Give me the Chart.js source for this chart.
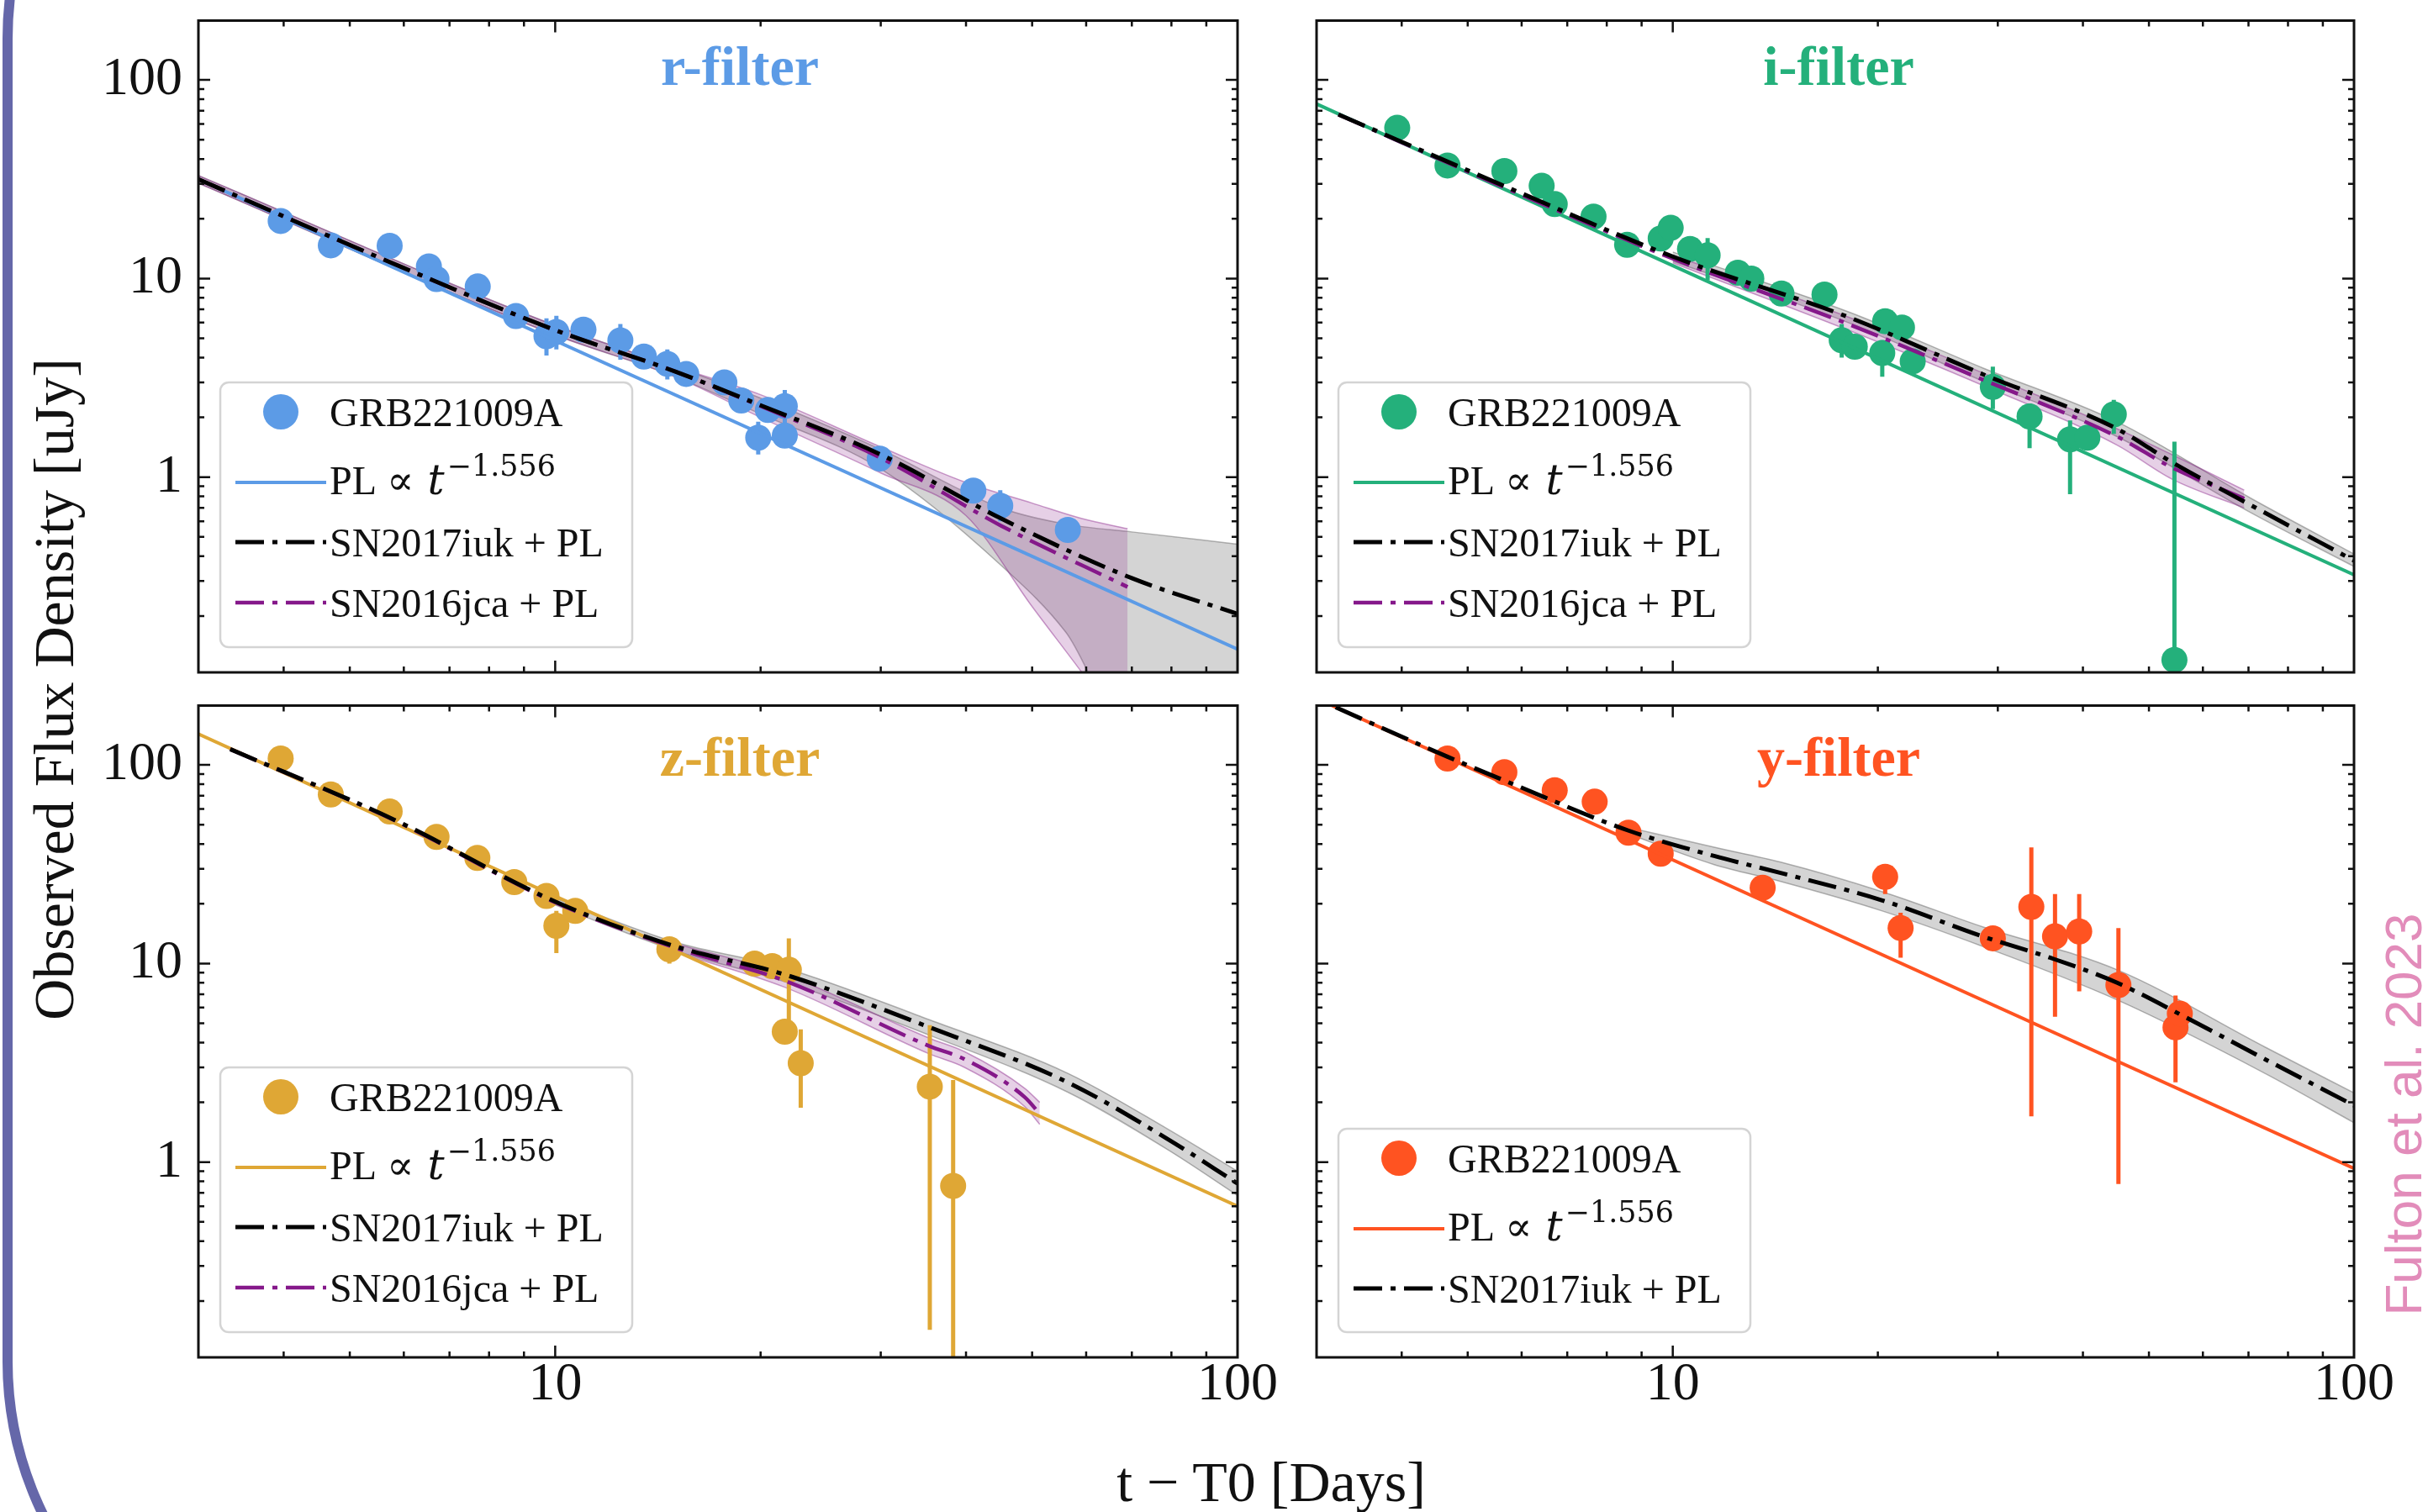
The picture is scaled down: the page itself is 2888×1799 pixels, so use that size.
<!DOCTYPE html>
<html>
<head>
<meta charset="utf-8">
<script src="https://cdn.jsdelivr.net/npm/chart.js@4.4.1/dist/chart.umd.min.js"></script>
<style>
  html, body { margin: 0; padding: 0; background: #fff; overflow: hidden; }
  #page { position: relative; width: 2888px; height: 1799px; overflow: hidden; background: #fff; }
  #page canvas { position: absolute; }
  .frame { position: absolute; left: 3px; top: -374px; width: 4000px; height: 2414px;
           border: 12px solid #6567a9; border-radius: 420px; box-sizing: border-box; }
  .lab { position: absolute; font-family: "Liberation Serif", "Times New Roman", serif;
         color: #111; white-space: nowrap; transform: translate(-50%, -50%); }
</style>
</head>
<body>
<div id="page">
  <div class="frame"></div>
  <div class="lab" style="left:64px; top:820px; font-size:68px; transform: translate(-50%,-50%) rotate(-90deg);">Observed Flux Density [uJy]</div>
  <div class="lab" style="left:1512px; top:1763px; font-size:68px;">t − T0 [Days]</div>
  <div class="lab" style="left:2858px; top:1326px; font-size:62px; font-family:'Liberation Sans',Arial,sans-serif; color:#e28cba; transform: translate(-50%,-50%) rotate(-90deg);">Fulton et al. 2023</div>
</div>
<script>
// ---- axis ticks ----
const xTickLabels = [10, 100];
const yTickLabels = [1, 10, 100];

// ---- r-filter ----
const rT    = [3.96, 4.69, 5.72, 6.53, 6.70, 7.70, 8.76, 9.71, 10.04, 11.0, 12.46, 13.49, 14.6, 15.56, 17.7, 18.74, 20.5, 21.7, 19.84, 21.7, 29.9, 41.0, 44.9, 56.4];
const rFlux = [19.5, 14.7, 14.6, 11.5, 9.95, 9.12, 6.48, 5.13, 5.38, 5.53, 4.88, 4.05, 3.72, 3.31, 3.0, 2.43, 2.18, 2.28, 1.58, 1.62, 1.24, 0.856, 0.718, 0.542];
const rLo   = [null, null, null, null, null, null, null, 4.1, 4.4, null, 3.9, null, 3.1, null, null, null, null, 1.85, 1.3, null, null, null, 0.6, null];
const rHi   = [null, null, null, null, null, null, null, 6.3, 6.5, null, 5.9, null, 4.4, null, null, null, null, 2.75, 1.9, null, null, null, 0.86, null];
const rPLT = [3, 100], rPLF = [31.6, 0.136];
const rIukT = [3, 6, 10, 15, 20, 30, 45, 70, 100];
const rIukF = [31.6, 11.3, 5.5, 3.4, 2.3, 1.3, 0.62, 0.31, 0.205];
const rIukBandT = [3, 10, 15, 20, 30, 45, 56, 70, 100];
const rIukUp    = [33, 5.8, 3.6, 2.5, 1.38, 0.7, 0.58, 0.53, 0.46];
const rIukLow   = [30.2, 5.2, 3.2, 2.08, 1.1, 0.36, 0.166, 0.05, 0.05];
const rJcaT = [3, 6, 10, 15, 20, 30, 45, 69];
const rJcaF = [31.6, 11.3, 5.5, 3.4, 2.28, 1.25, 0.57, 0.28];
const rJcaBandT = [3, 10, 15, 20, 30, 40, 50, 59, 69];
const rJcaUp    = [33, 5.8, 3.6, 2.6, 1.42, 0.94, 0.74, 0.62, 0.55];
const rJcaLow   = [30.2, 5.2, 3.2, 2.0, 1.05, 0.64, 0.223, 0.105, 0.05];

// ---- i-filter ----
const iT    = [3.94, 4.67, 5.66, 6.42, 6.71, 7.65, 8.57, 9.6, 9.93, 10.6, 11.25, 12.46, 13.04, 14.44, 16.7, 17.7, 18.5, 20.5, 21.7, 20.3, 22.5, 29.5, 33.4, 38.3, 40.6, 44.4, 54.5];
const iFlux = [57.4, 37.1, 34.8, 29.3, 23.7, 20.5, 14.8, 15.9, 18.0, 14.1, 13.1, 10.7, 10.0, 8.4, 8.3, 4.89, 4.54, 6.1, 5.67, 4.22, 3.83, 2.85, 2.02, 1.55, 1.58, 2.07, 0.12];
const iLo   = [null, null, null, null, null, null, null, null, null, null, 9.8, null, null, null, null, 4.0, null, null, null, 3.2, null, 2.2, 1.4, 0.82, null, 1.65, 0.05];
const iHi   = [null, null, null, null, null, null, null, null, null, null, 16.0, null, null, null, null, 5.9, null, null, null, 4.9, null, 3.6, 2.35, 1.93, null, 2.45, 1.51];
const iPLT = [3, 100], iPLF = [75.7, 0.322];
const iIukT = [3.23, 5.83, 10, 18.1, 28.5, 44.9, 53.8, 70.7, 100];
const iIukF = [67, 28, 12.9, 6.4, 3.3, 1.75, 1.2, 0.72, 0.38];
const iIukBandT = [10, 18.1, 28.5, 44.9, 70.7, 100];
const iIukUp    = [13.6, 6.8, 3.55, 1.9, 0.78, 0.41];
const iIukLow   = [12.2, 6.0, 3.05, 1.6, 0.66, 0.355];
const iJcaT = [3.23, 5.83, 10, 18.1, 28.5, 44.9, 54, 69];
const iJcaF = [67, 27.5, 12.6, 5.9, 3.1, 1.6, 1.12, 0.78];
const iJcaBandT = [10, 18.1, 28.5, 44.9, 54, 69];
const iJcaUp    = [13.1, 6.4, 3.35, 1.75, 1.3, 0.86];
const iJcaLow   = [12.0, 5.5, 2.9, 1.45, 0.98, 0.7];

// ---- z-filter ----
const zT    = [3.96, 4.69, 5.72, 6.70, 7.69, 8.71, 9.71, 10.04, 10.7, 14.7, 19.6, 20.8, 22.0, 21.7, 22.9, 35.4, 38.3];
const zFlux = [107.7, 71, 58.3, 43.4, 34, 25.7, 21.9, 15.5, 18.4, 11.8, 10.0, 9.7, 9.3, 4.54, 3.15, 2.40, 0.759];
const zLo   = [null, null, null, null, null, null, null, 11.3, null, 10.0, null, null, 4.5, null, 1.88, 0.143, 0.05];
const zHi   = [null, null, null, null, null, null, null, 18.4, null, 13.3, null, null, 13.4, null, 4.66, 4.89, 2.59];
const zPLT = [3, 100], zPLF = [143, 0.6];
const zIukT = [3.34, 5.82, 10, 15, 21.7, 35.4, 56.4, 79.2, 100];
const zIukF = [120, 52.8, 20.5, 12.2, 8.8, 4.77, 2.52, 1.3, 0.78];
const zIukBandT = [10, 15, 21.7, 35.4, 56.4, 79.2, 100];
const zIukUp    = [21.3, 12.8, 9.5, 5.2, 2.8, 1.46, 0.9];
const zIukLow   = [19.7, 11.6, 8.1, 4.35, 2.25, 1.15, 0.68];
const zJcaT = [3.34, 5.82, 10, 15, 21.7, 35.4, 39.8, 48.8, 51.3];
const zJcaF = [120, 52.5, 20.3, 12.0, 8.2, 3.83, 3.3, 2.12, 1.75];
const zJcaBandT = [15, 21.7, 35.4, 39.8, 48.8, 51.3];
const zJcaUp    = [12.6, 8.8, 4.2, 3.6, 2.35, 2.0];
const zJcaLow   = [11.4, 7.6, 3.5, 3.0, 1.9, 1.55];

// ---- y-filter ----
const yT    = [4.67, 5.66, 6.71, 7.68, 8.61, 9.6, 13.55, 20.5, 21.6, 29.5, 33.6, 36.4, 39.5, 45.1, 54.7, 55.5];
const yFlux = [107.7, 92, 74.5, 65.3, 45.6, 35.7, 24.1, 27.3, 15.1, 13.4, 19.3, 13.7, 14.5, 7.8, 4.77, 5.6];
const yLo   = [null, null, null, null, null, null, null, 22.4, 10.7, null, 1.70, 5.4, 7.24, 0.776, 2.52, null];
const yHi   = [null, null, null, null, null, null, null, 31.6, 18.0, null, 38.4, 22.4, 22.4, 15.1, 6.9, null];
const yPLT = [3.16, 100], yPLF = [199, 0.93];
const yIukT = [3.2, 4.67, 5.82, 8.61, 11.5, 14.4, 20.3, 28.5, 35.8, 44.9, 56.4, 74, 100];
const yIukF = [195, 110, 80.2, 46.7, 34.8, 28.6, 20.8, 13.7, 10.7, 8.0, 5.4, 3.3, 1.93];
const yIukBandT = [8.6, 11.5, 14.4, 20.3, 28.5, 44.9, 74, 100];
const yIukUp    = [48.5, 38.5, 32.4, 23, 15.3, 9.3, 3.8, 2.23];
const yIukLow   = [45, 31.5, 25.9, 18.4, 12.2, 6.56, 2.8, 1.58];

// ---- styles ----
const GRAY_FILL = 'rgba(120,120,120,0.32)', GRAY_EDGE = 'rgba(90,90,90,0.45)';
const PURP_FILL = 'rgba(140,40,140,0.22)',  PURP_EDGE = 'rgba(140,40,140,0.45)';
const PURPLE = '#85188a';
const DASH = [34, 10, 6, 10];
const SERIF = '"Liberation Serif","DejaVu Serif",serif';

const pts = (xs, ys) => xs.map((x, i) => ({ x, y: ys[i] }));

function bandSets(t, up, low, fill, edge, order) {
  return [
    { label: '', data: pts(t, up), borderColor: edge, borderWidth: 1.5, pointRadius: 0, fill: false,
      order, cubicInterpolationMode: 'monotone', clip: 0 },
    { label: '', data: pts(t, low), borderColor: edge, borderWidth: 1.5, pointRadius: 0, fill: '-1',
      backgroundColor: fill, order, cubicInterpolationMode: 'monotone', clip: 0 }
  ];
}

function filterSets(col, d) {
  const sets = bandSets(d.iukBT, d.iukUp, d.iukLow, GRAY_FILL, GRAY_EDGE, 10);
  if (d.jcaT) sets.push(...bandSets(d.jcaBT, d.jcaUp, d.jcaLow, PURP_FILL, PURP_EDGE, 9));
  sets.push({ label: 'GRB221009A', legendKind: 'marker', legendRank: 0, data: pts(d.T, d.F),
    errLo: d.lo, errHi: d.hi, showLine: false, pointRadius: 15.5, pointHoverRadius: 15.5,
    pointBackgroundColor: col, backgroundColor: col, pointBorderWidth: 0, borderWidth: 0, order: 5, clip: 0 });
  sets.push({ label: 'PL ∝ ', plExp: '−1.556', legendKind: 'line', legendRank: 1, data: pts(d.plT, d.plF),
    borderColor: col, borderWidth: 4, pointRadius: 0, order: 3, clip: 0 });
  if (d.jcaT) sets.push({ label: 'SN2016jca + PL', legendKind: 'line', legendRank: 3, data: pts(d.jcaT, d.jcaF),
    borderColor: PURPLE, borderWidth: 4.5, borderDash: DASH, pointRadius: 0, order: 2,
    cubicInterpolationMode: 'monotone', clip: 0 });
  sets.push({ label: 'SN2017iuk + PL', legendKind: 'line', legendRank: 2, data: pts(d.iukT, d.iukF),
    borderColor: '#000', borderWidth: 5, borderDash: DASH, pointRadius: 0, order: 1,
    cubicInterpolationMode: 'monotone', clip: 0 });
  return sets;
}

function drawLegend(chart) {
  const { ctx, chartArea: a } = chart;
  const rows = chart.data.datasets.filter(d => d.legendKind).sort((p, q) => p.legendRank - q.legendRank);
  const h = rows.length === 4 ? 315 : 242;
  const bx = a.left + 26, bw = 490, by = a.bottom - 30 - h;
  ctx.save();
  ctx.beginPath();
  ctx.roundRect(bx, by, bw, h, 10);
  ctx.fillStyle = 'rgba(255,255,255,0.85)';
  ctx.fill();
  ctx.strokeStyle = '#d4d4d4';
  ctx.lineWidth = 2.5;
  ctx.stroke();
  const offs = [35, 119, 190, 262];
  rows.forEach((d, k) => {
    const cy = by + offs[k];
    if (d.legendKind === 'marker') {
      ctx.fillStyle = d.backgroundColor;
      ctx.beginPath(); ctx.arc(bx + 72, cy, 21, 0, Math.PI * 2); ctx.fill();
    } else {
      ctx.strokeStyle = d.borderColor; ctx.lineWidth = d.borderWidth;
      ctx.setLineDash(d.borderDash || []);
      ctx.beginPath(); ctx.moveTo(bx + 18, cy); ctx.lineTo(bx + 126, cy); ctx.stroke();
      ctx.setLineDash([]);
    }
    ctx.fillStyle = '#111'; ctx.textAlign = 'left'; ctx.textBaseline = 'alphabetic';
    let tx = bx + 130;
    if (d.plExp) {
      const base = cy + 14;
      ctx.font = '48px ' + SERIF;
      ctx.fillText(d.label, tx, base);
      tx += ctx.measureText(d.label).width + 4;
      ctx.font = 'italic 50px "DejaVu Serif",serif';
      ctx.fillText('t', tx, base);
      tx += ctx.measureText('t').width + 3;
      ctx.font = '35px "DejaVu Serif",serif';
      ctx.fillText(d.plExp, tx, base - 22);
    } else {
      ctx.font = '48px ' + SERIF;
      ctx.fillText(d.label, tx, cy + 17);
    }
  });
  ctx.restore();
}

const decoCfg = {};
const deco = {
  id: 'deco',
  beforeDatasetDraw(chart, args) {
    const ds = chart.data.datasets[args.index];
    if (!ds.errLo) return;
    const { ctx, chartArea: a, scales: { x, y } } = chart;
    ctx.save();
    ctx.beginPath(); ctx.rect(a.left, a.top, a.width, a.height); ctx.clip();
    ctx.strokeStyle = ds.backgroundColor; ctx.lineWidth = 5;
    ds.data.forEach((p, k) => {
      if (ds.errLo[k] == null) return;
      const px = x.getPixelForValue(p.x);
      ctx.beginPath();
      ctx.moveTo(px, y.getPixelForValue(ds.errLo[k]));
      ctx.lineTo(px, y.getPixelForValue(ds.errHi[k]));
      ctx.stroke();
    });
    ctx.restore();
  },
  afterDraw(chart) {
    const cfg = decoCfg[chart.canvas.id];
    const { ctx, chartArea: a, scales: { x, y } } = chart;
    ctx.save();
    // panel title
    ctx.font = 'bold 66px ' + SERIF;
    ctx.fillStyle = cfg.color; ctx.textAlign = 'center'; ctx.textBaseline = 'alphabetic';
    ctx.fillText(cfg.title, a.left + cfg.titleDx, a.top + cfg.titleDy);
    drawLegend(chart);
    // frame
    ctx.strokeStyle = '#111'; ctx.lineWidth = 3;
    ctx.strokeRect(a.left, a.top, a.width, a.height);
    // inward ticks on all four sides
    ctx.lineWidth = 2.5;
    for (const d of [1, 10, 100]) for (let m = 1; m < 10; m++) {
      const v = d * m;
      if (v <= x.min || v >= x.max) continue;
      const px = x.getPixelForValue(v), len = m === 1 ? 14 : 7;
      ctx.beginPath();
      ctx.moveTo(px, a.bottom); ctx.lineTo(px, a.bottom - len);
      ctx.moveTo(px, a.top); ctx.lineTo(px, a.top + len);
      ctx.stroke();
    }
    for (const d of [0.1, 1, 10, 100]) for (let m = 1; m < 10; m++) {
      const v = d * m;
      if (v <= y.min || v >= y.max) continue;
      const py = y.getPixelForValue(v), len = m === 1 ? 14 : 7;
      ctx.beginPath();
      ctx.moveTo(a.left, py); ctx.lineTo(a.left + len, py);
      ctx.moveTo(a.right, py); ctx.lineTo(a.right - len, py);
      ctx.stroke();
    }
    // tick labels
    ctx.fillStyle = '#111';
    ctx.font = '64px ' + SERIF;
    if (cfg.showY) {
      ctx.textAlign = 'right'; ctx.textBaseline = 'middle';
      yTickLabels.forEach(v => ctx.fillText(String(v), a.left - 19, y.getPixelForValue(v)));
    }
    if (cfg.showX) {
      ctx.textAlign = 'center'; ctx.textBaseline = 'middle';
      xTickLabels.forEach(v => ctx.fillText(String(v), x.getPixelForValue(v), a.bottom + 33));
    }
    ctx.restore();
  }
};

const PAD = { l: 150, r: 80, t: 14, b: 100 };
const page = document.getElementById('page');

function panel(id, area, cfg, datasets) {
  const cv = document.createElement('canvas');
  cv.id = id;
  cv.width = area.w + PAD.l + PAD.r;
  cv.height = area.h + PAD.t + PAD.b;
  cv.style.left = (area.left - PAD.l) + 'px';
  cv.style.top = (area.top - PAD.t) + 'px';
  page.appendChild(cv);
  decoCfg[id] = cfg;
  new Chart(cv, {
    type: 'line',
    data: { datasets },
    options: {
      responsive: false, animation: false, devicePixelRatio: 1,
      layout: { padding: { left: PAD.l, right: PAD.r, top: PAD.t, bottom: PAD.b } },
      scales: {
        x: { type: 'logarithmic', min: 3, max: 100, display: false },
        y: { type: 'logarithmic', min: 0.104, max: 199, display: false }
      },
      plugins: { legend: { display: false }, tooltip: { enabled: false } }
    },
    plugins: [deco]
  });
}

panel('pr', { left: 236, top: 23, w: 1236, h: 777 },
  { color: '#5c9be6', title: 'r-filter', titleDx: 644, titleDy: 76, showY: true, showX: false },
  filterSets('#5c9be6', { T: rT, F: rFlux, lo: rLo, hi: rHi, plT: rPLT, plF: rPLF,
    iukT: rIukT, iukF: rIukF, iukBT: rIukBandT, iukUp: rIukUp, iukLow: rIukLow,
    jcaT: rJcaT, jcaF: rJcaF, jcaBT: rJcaBandT, jcaUp: rJcaUp, jcaLow: rJcaLow }));

panel('pi', { left: 1566, top: 23, w: 1234, h: 777 },
  { color: '#24b07b', title: 'i-filter', titleDx: 621, titleDy: 76, showY: false, showX: false },
  filterSets('#24b07b', { T: iT, F: iFlux, lo: iLo, hi: iHi, plT: iPLT, plF: iPLF,
    iukT: iIukT, iukF: iIukF, iukBT: iIukBandT, iukUp: iIukUp, iukLow: iIukLow,
    jcaT: iJcaT, jcaF: iJcaF, jcaBT: iJcaBandT, jcaUp: iJcaUp, jcaLow: iJcaLow }));

panel('pz', { left: 236, top: 838, w: 1236, h: 777 },
  { color: '#dfa735', title: 'z-filter', titleDx: 644, titleDy: 83, showY: true, showX: true },
  filterSets('#dfa735', { T: zT, F: zFlux, lo: zLo, hi: zHi, plT: zPLT, plF: zPLF,
    iukT: zIukT, iukF: zIukF, iukBT: zIukBandT, iukUp: zIukUp, iukLow: zIukLow,
    jcaT: zJcaT, jcaF: zJcaF, jcaBT: zJcaBandT, jcaUp: zJcaUp, jcaLow: zJcaLow }));

panel('py', { left: 1566, top: 838, w: 1234, h: 777 },
  { color: '#ff5321', title: 'y-filter', titleDx: 621, titleDy: 83, showY: false, showX: true },
  filterSets('#ff5321', { T: yT, F: yFlux, lo: yLo, hi: yHi, plT: yPLT, plF: yPLF,
    iukT: yIukT, iukF: yIukF, iukBT: yIukBandT, iukUp: yIukUp, iukLow: yIukLow }));
</script>
</body>
</html>
